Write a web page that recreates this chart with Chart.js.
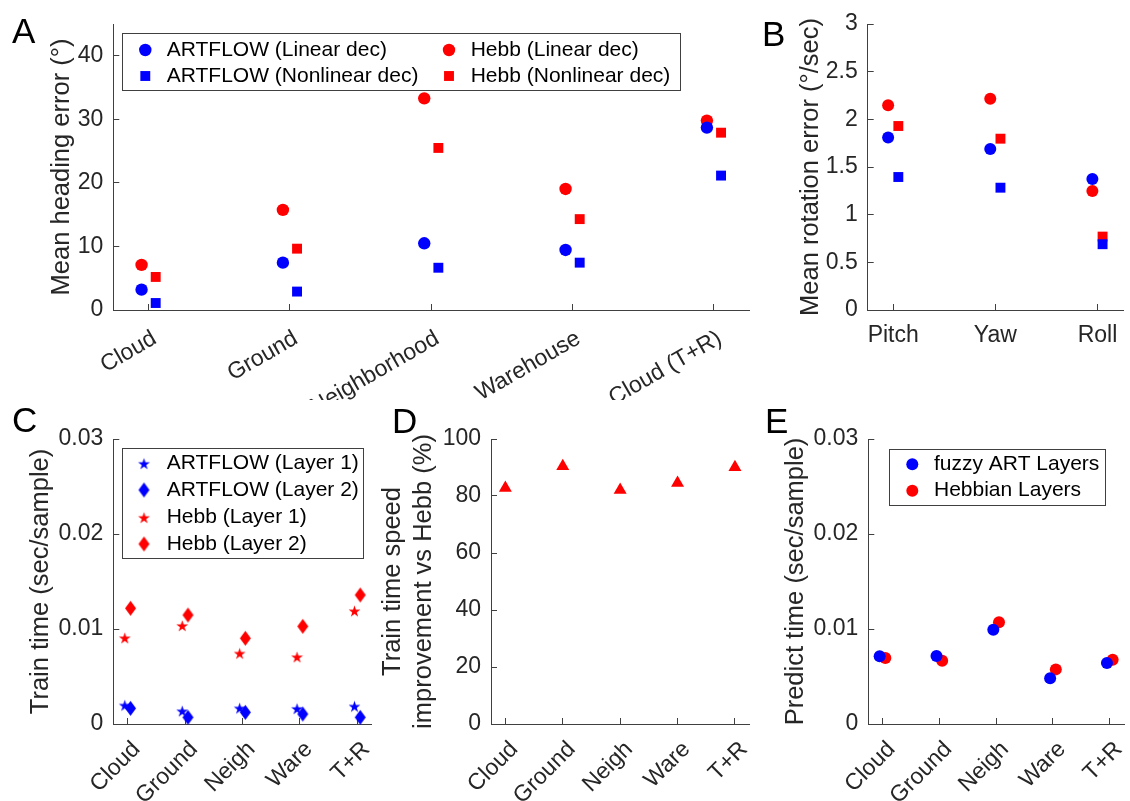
<!DOCTYPE html>
<html lang="en">
<head>
<meta charset="UTF-8">
<title>ARTFLOW vs Hebb</title>
<script src="https://cdn.jsdelivr.net/npm/chart.js"></script>
<style>
  body { margin: 0; background: #fff; }
  #page { position: relative; width: 1130px; height: 801px; overflow: hidden; font-family: "Liberation Sans", Arial, Helvetica, sans-serif; }
  .panel { position: absolute; }
  .letter { position: absolute; font-size: 35px; line-height: 35px; color: #000; }
</style>
</head>
<body>
<div id="page">
  <div class="letter" style="left:12px;top:12.5px">A</div>
  <div class="letter" style="left:762px;top:15.5px">B</div>
  <div class="letter" style="left:12px;top:402px">C</div>
  <div class="letter" style="left:392px;top:403px">D</div>
  <div class="letter" style="left:765px;top:403px">E</div>
</div>
<script>
// ---- data ----
const scenes = ['Cloud', 'Ground', 'Neighborhood', 'Warehouse', 'Cloud (T+R)'];
const scenesShort = ['Cloud', 'Ground', 'Neigh', 'Ware', 'T+R'];

// A: mean heading error (deg)
const headingArtLinear = [3.2, 7.45, 10.5, 9.45, 28.7];
const headingArtNonlinear = [1.1, 2.9, 6.65, 7.45, 21.15];
const headingHebbLinear = [7.1, 15.75, 33.3, 19.05, 29.8];
const headingHebbNonlinear = [5.2, 9.65, 25.5, 14.3, 27.9];
const headingTicks = [0, 10, 20, 30, 40];

// B: mean rotation error (deg/sec)
const rotAxes = ['Pitch', 'Yaw', 'Roll'];
const rotArtLinear = [1.81, 1.69, 1.375];
const rotArtNonlinear = [1.395, 1.283, 0.69];
const rotHebbLinear = [2.147, 2.217, 1.248];
const rotHebbNonlinear = [1.93, 1.797, 0.77];
const rotTicks = [0, 0.5, 1, 1.5, 2, 2.5, 3];

// C: train time (sec/sample)
const trainArtL1 = [0.0020, 0.0014, 0.0017, 0.00165, 0.0019];
const trainArtL2 = [0.00165, 0.0007, 0.00123, 0.00105, 0.0007];
const trainHebbL1 = [0.00909, 0.01038, 0.00747, 0.00709, 0.01193];
const trainHebbL2 = [0.01218, 0.01147, 0.00902, 0.01028, 0.01358];
const timeTicks = [0, 0.01, 0.02, 0.03];

// D: train time speed improvement (%)
const speedup = [82.8, 90.4, 82.1, 84.6, 90.1];
const speedTicks = [0, 20, 40, 60, 80, 100];

// E: predict time (sec/sample)
const predictArt = [0.00712, 0.00716, 0.00993, 0.00481, 0.00642];
const predictHebb = [0.00695, 0.00667, 0.0107, 0.00575, 0.00677];

// ---- styling ----
const BLUE = '#0000ff', RED = '#ff0000';
const AXIS = '#404040', INK = '#262626';
const FONT = '"Liberation Sans", Arial, Helvetica, sans-serif';
const TICK_SIZE = 23, LABEL_SIZE = 25.5, LEGEND_SIZE = 21;
Chart.defaults.font.family = FONT;
Chart.defaults.color = INK;

// filled pentagram / diamond markers like matlab's 'p' and 'd'
function starMarker(color, r) {
  const c = document.createElement('canvas');
  const s = Math.ceil(r * 2 + 2);
  c.width = s; c.height = s;
  const g = c.getContext('2d');
  g.fillStyle = color;
  g.beginPath();
  for (let i = 0; i < 10; i++) {
    const rr = i % 2 ? r * 0.382 : r;
    const a = -Math.PI / 2 + i * Math.PI / 5;
    const px = s / 2 + rr * Math.cos(a), py = s / 2 + 1 + rr * Math.sin(a);
    if (i) g.lineTo(px, py); else g.moveTo(px, py);
  }
  g.closePath();
  g.fill();
  return c;
}
function diamondMarker(color, w, h) {
  const c = document.createElement('canvas');
  c.width = w + 2; c.height = h + 2;
  const g = c.getContext('2d');
  const cx = c.width / 2, cy = c.height / 2;
  g.fillStyle = color;
  g.beginPath();
  g.moveTo(cx, cy - h / 2); g.lineTo(cx + w / 2, cy);
  g.lineTo(cx, cy + h / 2); g.lineTo(cx - w / 2, cy);
  g.closePath();
  g.fill();
  return c;
}

function pts(vals, dx) {
  return vals.map((v, i) => ({ x: i + 1 + dx, y: v }));
}
function series(label, vals, dx, color, style, radius) {
  return {
    label, data: pts(vals, dx), pointStyle: style, pointRadius: radius, pointHoverRadius: radius,
    backgroundColor: color, pointBackgroundColor: color, pointBorderWidth: 0, borderWidth: 0,
    clip: false
  };
}

function drawMarker(ctx, ds, x, y) {
  const st = ds.pointStyle, r = ds.pointRadius;
  if (typeof st === 'object') {
    ctx.drawImage(st, x - st.width / 2, y - st.height / 2);
    return;
  }
  ctx.fillStyle = ds.backgroundColor;
  ctx.beginPath();
  if (st === 'rect') {
    const h = r * Math.SQRT1_2;
    ctx.rect(x - h, y - h, 2 * h, 2 * h);
  } else {
    ctx.arc(x, y, r, 0, Math.PI * 2);
  }
  ctx.fill();
}

// boxed legend, laid out by hand like the matlab one
const boxLegend = {
  id: 'boxLegend',
  afterDraw(chart, args, opts) {
    if (!opts.box) return;
    const ctx = chart.ctx;
    const [ox, oy] = opts.origin;
    const [x0, y0, x1, y1] = opts.box;
    ctx.save();
    ctx.fillStyle = '#fff';
    ctx.fillRect(x0 - ox, y0 - oy, x1 - x0, y1 - y0);
    ctx.strokeStyle = AXIS;
    ctx.lineWidth = 1;
    ctx.strokeRect(Math.round(x0 - ox) + 0.5, Math.round(y0 - oy) + 0.5, Math.round(x1 - x0), Math.round(y1 - y0));
    ctx.font = LEGEND_SIZE + 'px ' + FONT;
    ctx.textBaseline = 'middle';
    chart.data.datasets.forEach((ds, i) => {
      const [mx, tx, y] = opts.items[i];
      drawMarker(ctx, ds, mx - ox, y - oy);
      ctx.fillStyle = '#000';
      ctx.fillText(ds.label, tx - ox, y - oy);
    });
    ctx.restore();
  }
};
Chart.register(boxLegend);

function buildPanel(id, box, area, titleX, spec) {
  const page = document.getElementById('page');
  const div = document.createElement('div');
  div.className = 'panel';
  div.style.left = box.left + 'px';
  div.style.top = box.top + 'px';
  div.style.width = box.width + 'px';
  div.style.height = box.height + 'px';
  const canvas = document.createElement('canvas');
  canvas.id = id;
  div.appendChild(canvas);
  page.insertBefore(div, page.firstChild);

  const half = LABEL_SIZE * 1.2 / 2;
  const padLeft = titleX - half - box.left;
  const yWidth = area.left - box.left - padLeft;
  const xHeight = box.top + box.height - area.bottom;

  const x = spec.x, y = spec.y;
  const scales = {
    x: {
      type: 'linear', min: x.min, max: x.max,
      afterBuildTicks: s => { s.ticks = x.labels.map((_, i) => ({ value: i + 1 })); },
      afterFit: s => { s.height = xHeight; s.paddingLeft = 0; s.paddingRight = 0; },
      ticks: {
        autoSkip: false, minRotation: x.rotation, maxRotation: x.rotation,
        padding: x.padding, labelOffset: x.labelOffset,
        font: { size: TICK_SIZE }, color: INK,
        callback: (v, i) => x.labels[i]
      },
      grid: { drawOnChartArea: false, drawTicks: true, tickLength: -6, color: AXIS },
      border: { color: AXIS, width: 1 }
    },
    y: {
      type: 'linear', min: 0, max: y.max,
      afterBuildTicks: s => { s.ticks = y.ticks.map(v => ({ value: v })); },
      afterFit: s => { s.width = yWidth; s.paddingTop = 0; s.paddingBottom = 0; },
      ticks: { padding: 16, font: { size: TICK_SIZE }, color: INK, callback: v => String(v) },
      grid: { drawOnChartArea: false, drawTicks: true, tickLength: -6, color: AXIS },
      border: { color: AXIS, width: 1 },
      title: { display: true, text: y.title, font: { size: LABEL_SIZE }, color: INK, padding: 0 }
    }
  };

  const legendOpts = spec.legend ? Object.assign({ origin: [box.left, box.top] }, spec.legend) : {};
  return new Chart(canvas, {
    type: 'scatter',
    data: { datasets: spec.datasets },
    options: {
      responsive: true, maintainAspectRatio: false, animation: false, events: [],
      layout: { padding: { left: padLeft, top: area.top - box.top, right: box.left + box.width - area.right, bottom: 0 } },
      scales,
      plugins: { legend: { display: false }, tooltip: { enabled: false }, boxLegend: legendOpts }
    }
  });
}

const L = -0.05, R = 0.05;

// A
buildPanel('chartA',
  { left: 0, top: 0, width: 760, height: 400 },
  { left: 113.3, top: 24, right: 749.3, bottom: 310 }, 61.5, {
  x: { labels: scenes, min: 0.75, max: 5.25, rotation: 30, padding: 21, labelOffset: 6 },
  y: { ticks: headingTicks, max: 45, title: 'Mean heading error (°)' },
  datasets: [
    series('ARTFLOW (Linear dec)', headingArtLinear, L, BLUE, 'circle', 6.2),
    series('ARTFLOW (Nonlinear dec)', headingArtNonlinear, R, BLUE, 'rect', 7),
    series('Hebb (Linear dec)', headingHebbLinear, L, RED, 'circle', 6.2),
    series('Hebb (Nonlinear dec)', headingHebbNonlinear, R, RED, 'rect', 7)
  ],
  legend: {
    box: [122.3, 33.3, 680, 90.7],
    items: [[145.3, 166.7, 50], [145.3, 166.7, 76], [449, 470.7, 50], [449, 470.7, 76]]
  }
});

// B
buildPanel('chartB',
  { left: 760, top: 0, width: 370, height: 400 },
  { left: 867.7, top: 24, right: 1126.7, bottom: 310 }, 810.5, {
  x: { labels: rotAxes, min: 0.75, max: 3.25, rotation: 0, padding: 18, labelOffset: 0 },
  y: { ticks: rotTicks, max: 3, title: 'Mean rotation error (°/sec)' },
  datasets: [
    series('ARTFLOW (Linear dec)', rotArtLinear, L, BLUE, 'circle', 6),
    series('ARTFLOW (Nonlinear dec)', rotArtNonlinear, R, BLUE, 'rect', 7),
    series('Hebb (Linear dec)', rotHebbLinear, L, RED, 'circle', 6),
    series('Hebb (Nonlinear dec)', rotHebbNonlinear, R, RED, 'rect', 7)
  ]
});

// C
buildPanel('chartC',
  { left: 0, top: 400, width: 380, height: 401 },
  { left: 113.3, top: 439, right: 371.7, bottom: 724 }, 41, {
  x: { labels: scenesShort, min: 0.75, max: 5.25, rotation: 45, padding: 18, labelOffset: 9 },
  y: { ticks: timeTicks, max: 0.03, title: 'Train time (sec/sample)' },
  datasets: [
    series('ARTFLOW (Layer 1)', trainArtL1, L, BLUE, starMarker(BLUE, 6.2), 6),
    series('ARTFLOW (Layer 2)', trainArtL2, R, BLUE, diamondMarker(BLUE, 11, 15), 7),
    series('Hebb (Layer 1)', trainHebbL1, L, RED, starMarker(RED, 6.2), 6),
    series('Hebb (Layer 2)', trainHebbL2, R, RED, diamondMarker(RED, 11, 15), 7)
  ],
  legend: {
    box: [121.7, 448.3, 362.3, 558.3],
    items: [[144, 166.7, 463.3], [144, 166.7, 490], [144, 166.7, 517.3], [144, 166.7, 544]]
  }
});

// D
buildPanel('chartD',
  { left: 372, top: 400, width: 388, height: 401 },
  { left: 491, top: 439, right: 749.3, bottom: 724 }, 393, {
  x: { labels: scenesShort, min: 0.75, max: 5.25, rotation: 45, padding: 18, labelOffset: 9 },
  y: { ticks: speedTicks, max: 100, title: ['Train time speed', 'improvement vs Hebb (%)'] },
  datasets: [
    series('Speed improvement', speedup, 0, RED, 'triangle', 7.5)
  ]
});

// E
buildPanel('chartE',
  { left: 760, top: 400, width: 370, height: 401 },
  { left: 868.3, top: 439, right: 1126.7, bottom: 724 }, 796, {
  x: { labels: scenesShort, min: 0.75, max: 5.25, rotation: 45, padding: 18, labelOffset: 9 },
  y: { ticks: timeTicks, max: 0.03, title: 'Predict time (sec/sample)' },
  datasets: [
    series('fuzzy ART Layers', predictArt, L, BLUE, 'circle', 6),
    series('Hebbian Layers', predictHebb, R, RED, 'circle', 6)
  ],
  legend: {
    box: [889.3, 449, 1105.7, 505],
    items: [[912.3, 934, 464.3], [912.3, 934, 490.7]]
  }
});
</script>
</body>
</html>
